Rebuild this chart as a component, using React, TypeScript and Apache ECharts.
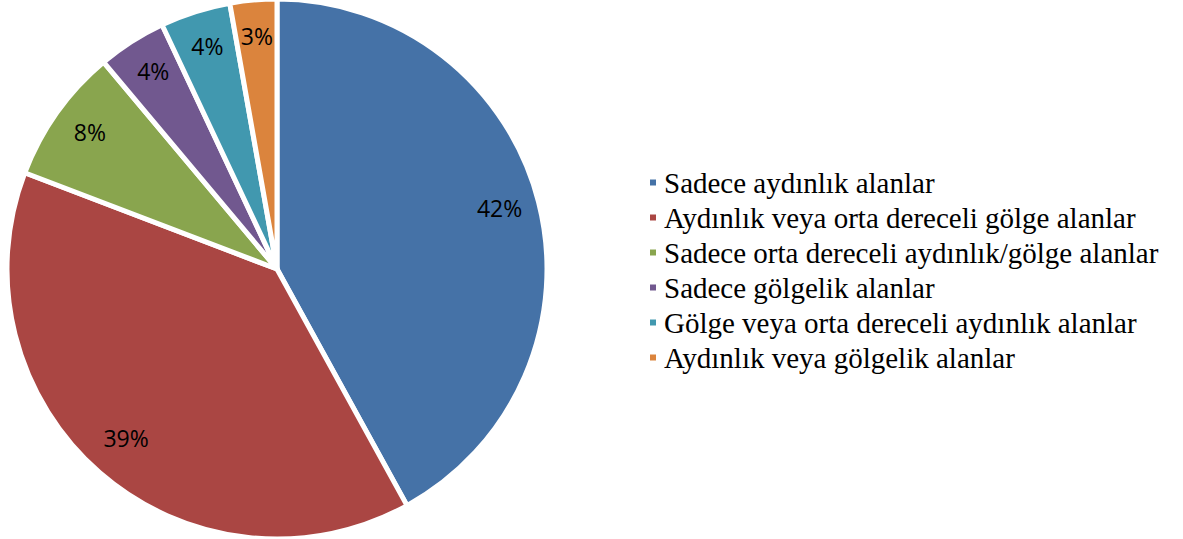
import React, { useEffect, useRef } from "react";
import * as echarts from "echarts";

const categories = [
  "Sadece aydınlık alanlar",
  "Aydınlık veya orta dereceli gölge alanlar",
  "Sadece orta dereceli aydınlık/gölge alanlar",
  "Sadece gölgelik alanlar",
  "Gölge veya orta dereceli aydınlık alanlar",
  "Aydınlık veya gölgelik alanlar",
];
const values = [42.0, 38.8, 8.1, 4.1, 4.2, 2.8];
const colors = ["#4572A7", "#AA4643", "#89A54E", "#71588F", "#4198AF", "#DB843D"];

export default function App() {
  const ref = useRef<HTMLDivElement>(null);
  useEffect(() => {
    if (!ref.current) return;
    const chart = echarts.init(ref.current, null, { renderer: "svg" });
    const center = [277, 269];
    const R = 270;
    const data = categories.map((name, i) => ({
      name,
      value: values[i],
      itemStyle: { color: colors[i] },
    }));
    chart.setOption({
      animation: false,
      legend: {
        orient: "vertical",
        left: 643,
        top: 163,
        icon: "rect",
        itemWidth: 8,
        itemHeight: 8,
        itemGap: 6,
        data: categories,
        textStyle: {
          fontFamily: "'Liberation Serif', 'Times New Roman', serif",
          fontSize: 29,
          lineHeight: 29,
          color: "#000",
          padding: [0, 0, 0, 2],
        },
      },
      series: [
        {
          type: "pie",
          center,
          radius: [0, R],
          startAngle: 90,
          clockwise: true,
          label: { show: false },
          labelLine: { show: false },
          itemStyle: { borderColor: "#fff", borderWidth: 5 },
          emphasis: { disabled: true },
          data,
        },
        {
          type: "pie",
          center,
          radius: [0, R * 1.68],
          startAngle: 90,
          clockwise: true,
          silent: true,
          emphasis: { disabled: true },
          itemStyle: { color: "rgba(0,0,0,0)", borderWidth: 0 },
          labelLine: { show: false },
          label: {
            show: true,
            position: "inside",
            fontFamily: "'Open Sans', sans-serif",
            fontSize: 23,
            color: "#000",
            offset: [0, -4],
            formatter: (p: any) => Math.round(p.percent) + "%",
          },
          data: categories.map((name, i) => ({
            name,
            value: values[i],
            itemStyle: { color: "rgba(0,0,0,0)" },
          })),
        },
      ],
    });
    return () => chart.dispose();
  }, []);
  return (
    <div
      ref={ref}
      style={{ position: "absolute", left: 0, top: 0, width: 1183, height: 539 }}
    />
  );
}
